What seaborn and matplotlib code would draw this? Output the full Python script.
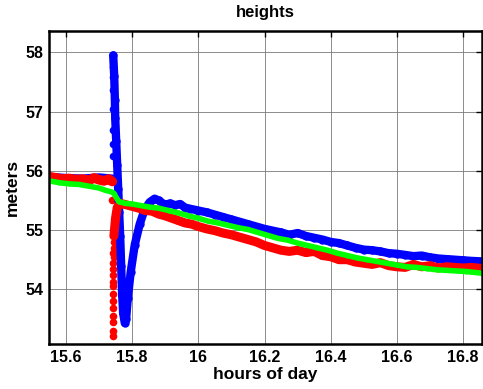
import numpy as np
import pandas as pd
import matplotlib
matplotlib.use('Agg')
import matplotlib.pyplot as plt
import seaborn as sns

# readings
blue_pre_x = [15.55, 15.60, 15.65, 15.70, 15.74]
blue_pre_y = [55.91, 55.89, 55.88, 55.90, 55.88]

blue_x = [15.743, 15.746, 15.748, 15.749, 15.752, 15.755, 15.758, 15.761, 15.764,
          15.767, 15.770, 15.773, 15.778, 15.782, 15.787, 15.796, 15.808, 15.823,
          15.838, 15.853, 15.868, 15.88, 15.89, 15.90, 15.915, 15.93, 15.945, 15.96,
          15.975, 16.00, 16.025, 16.05, 16.075, 16.10, 16.125, 16.15, 16.175, 16.20,
          16.225, 16.25, 16.275, 16.30, 16.325, 16.35, 16.375, 16.40, 16.425, 16.45,
          16.475, 16.50, 16.525, 16.55, 16.575, 16.60, 16.625, 16.65, 16.675, 16.70,
          16.725, 16.75, 16.775, 16.80, 16.825, 16.86]
blue_y = [57.95, 57.60, 57.20, 56.90, 56.50, 56.10, 55.70, 55.30, 54.90,
          54.40, 53.90, 53.60, 53.43, 53.50, 53.85, 54.30, 54.75, 55.10,
          55.35, 55.47, 55.53, 55.50, 55.46, 55.43, 55.45, 55.42, 55.44, 55.38,
          55.36, 55.33, 55.30, 55.26, 55.22, 55.18, 55.14, 55.10, 55.06, 55.02,
          54.99, 54.96, 54.92, 54.95, 54.90, 54.87, 54.84, 54.80, 54.78, 54.74,
          54.70, 54.67, 54.66, 54.64, 54.61, 54.60, 54.58, 54.56, 54.57, 54.54,
          54.52, 54.51, 54.50, 54.49, 54.48, 54.47]

blue_out_x = [15.741, 15.741, 15.741, 15.741, 15.741, 15.742, 15.741]
blue_out_y = [57.76, 57.59, 57.36, 57.05, 56.69, 56.45, 56.25]

red_pre_x = [15.55, 15.57, 15.59, 15.61, 15.63, 15.65, 15.67, 15.685, 15.70,
             15.715, 15.73, 15.74]
red_pre_y = [55.90, 55.88, 55.86, 55.87, 55.85, 55.86, 55.84, 55.88, 55.85,
             55.83, 55.86, 55.82]

red_col_x = [15.741, 15.741, 15.742, 15.741, 15.742, 15.742, 15.742, 15.743,
             15.742, 15.743, 15.743, 15.743, 15.744, 15.743, 15.744, 15.744, 15.744,
             15.740]
red_col_y = [53.22, 53.30, 53.45, 53.55, 53.68, 53.80, 53.92, 54.05,
             54.12, 54.25, 54.35, 54.45, 54.55, 54.62, 54.70, 54.80, 54.90,
             55.51]

red_x = [15.745, 15.75, 15.755, 15.765, 15.78, 15.80, 15.82, 15.84, 15.86, 15.88,
         15.90, 15.92, 15.94, 15.96, 15.98, 16.00, 16.025, 16.05, 16.075, 16.10,
         16.125, 16.15, 16.175, 16.20, 16.225, 16.25, 16.275, 16.30, 16.325, 16.35,
         16.375, 16.40, 16.425, 16.45, 16.475, 16.50, 16.525, 16.55, 16.575, 16.60,
         16.625, 16.65, 16.675, 16.70, 16.725, 16.75, 16.775, 16.80, 16.825, 16.86]
red_y = [54.90, 55.20, 55.38, 55.45, 55.43, 55.40, 55.37, 55.33, 55.32, 55.27,
         55.24, 55.20, 55.16, 55.12, 55.10, 55.06, 55.02, 54.99, 54.95, 54.92,
         54.88, 54.84, 54.80, 54.74, 54.70, 54.66, 54.64, 54.66, 54.62, 54.64,
         54.57, 54.55, 54.50, 54.50, 54.46, 54.44, 54.42, 54.45, 54.40, 54.38,
         54.37, 54.42, 54.38, 54.40, 54.36, 54.38, 54.37, 54.36, 54.37, 54.35]

green_x = [15.55, 15.58, 15.61, 15.64, 15.67, 15.70, 15.72, 15.74, 15.745, 15.752,
           15.76, 15.78, 15.80, 15.82, 15.85, 15.88, 15.91, 15.94, 15.97, 16.00,
           16.03, 16.06, 16.09, 16.12, 16.15, 16.18, 16.21, 16.24, 16.27, 16.30,
           16.33, 16.36, 16.39, 16.42, 16.45, 16.48, 16.51, 16.54, 16.57, 16.60,
           16.63, 16.66, 16.69, 16.72, 16.75, 16.78, 16.81, 16.86]
green_y = [55.83, 55.80, 55.78, 55.77, 55.74, 55.71, 55.67, 55.64, 55.62, 55.55,
           55.48, 55.45, 55.44, 55.42, 55.39, 55.37, 55.33, 55.29, 55.24, 55.20,
           55.15, 55.12, 55.08, 55.04, 55.01, 54.96, 54.91, 54.86, 54.83, 54.78,
           54.74, 54.70, 54.66, 54.61, 54.57, 54.53, 54.50, 54.47, 54.44, 54.41,
           54.38, 54.37, 54.35, 54.33, 54.32, 54.31, 54.30, 54.27]

x_ticks = [15.6, 15.8, 16.0, 16.2, 16.4, 16.6, 16.8]
x_tick_labels = ['15.6', '15.8', '16', '16.2', '16.4', '16.6', '16.8']
y_ticks = [54, 55, 56, 57, 58]

sns.set_style('white')
plt.rcParams['font.family'] = ['Liberation Sans', 'DejaVu Sans']
plt.rcParams['font.weight'] = 'bold'
for key in ['text.color', 'axes.labelcolor', 'xtick.color', 'ytick.color']:
    plt.rcParams[key] = 'black'

fig = plt.figure(figsize=(4.83, 3.89), dpi=100)
ax = fig.add_axes([49 / 483, 45 / 389, 433 / 483, 313 / 389])

line_kw = dict(sort=False, estimator=None, legend=False, ax=ax, marker='o',
               markeredgewidth=0)
sns.lineplot(x=blue_pre_x, y=blue_pre_y, color='#0000ff', lw=5, ms=5, **line_kw)
sns.lineplot(x=blue_x, y=blue_y, color='#0000ff', lw=6, ms=6, **line_kw)
sns.scatterplot(x=blue_out_x, y=blue_out_y, color='#0000ff', s=30, linewidth=0,
                legend=False, ax=ax)
sns.lineplot(x=red_pre_x, y=red_pre_y, color='#ff0000', lw=7, ms=5, **line_kw)
sns.scatterplot(x=red_col_x, y=red_col_y, color='#ff0000', s=30, linewidth=0,
                legend=False, ax=ax)
sns.lineplot(x=red_x, y=red_y, color='#ff0000', lw=6.5, ms=5, **line_kw)
sns.lineplot(x=green_x, y=green_y, color='#00ff00', lw=4, ms=3, **line_kw)

ax.set_xlim(15.549, 16.857)
ax.set_ylim(53.077, 58.36)
ax.set_xticks(x_ticks)
ax.set_xticklabels(x_tick_labels)
ax.set_yticks(y_ticks)
ax.grid(True, color='#7a7a7a', lw=0.6, ls='-')
ax.set_axisbelow(True)
ax.tick_params(direction='in', length=4, width=1, top=True, right=True,
               labelsize=11.5, pad=4, colors='black')
for lab in ax.get_xticklabels() + ax.get_yticklabels():
    lab.set_fontweight('bold')
for s in ax.spines.values():
    s.set_visible(True)
    s.set_color('black')
    s.set_linewidth(1.8)

ax.set_title('heights', fontsize=12, fontweight='bold', pad=10)
ax.set_xlabel('hours of day', fontsize=12.5, fontweight='bold', labelpad=2)
ax.set_ylabel('meters', fontsize=12.5, fontweight='bold', labelpad=4)

fig.savefig('out.png', dpi=100)
